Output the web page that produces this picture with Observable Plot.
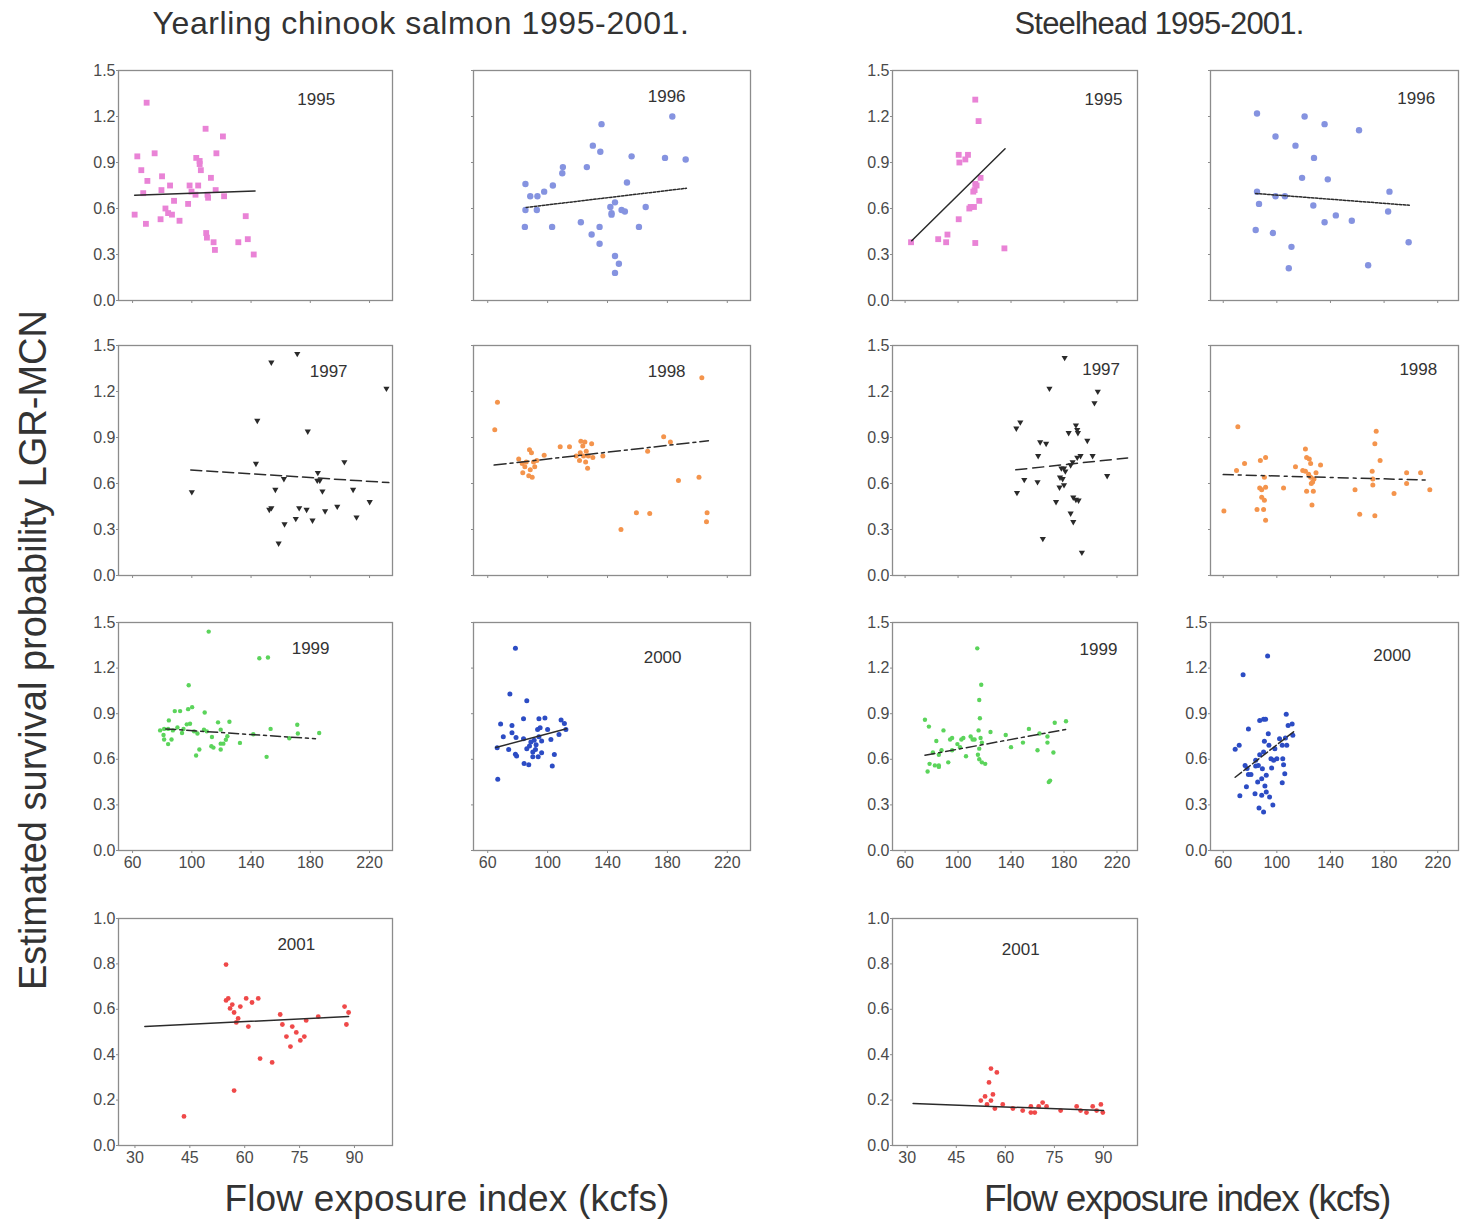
<!DOCTYPE html>
<html><head><meta charset="utf-8">
<script src="https://cdn.jsdelivr.net/npm/d3@7"></script>
<script src="https://cdn.jsdelivr.net/npm/@observablehq/plot@0.6"></script>
<style>
body{margin:0;background:#fff;}
#root{position:relative;width:1462px;height:1222px;overflow:hidden;font-family:"Liberation Sans",Arial,sans-serif;color:#333;}
.p{position:absolute;}
.t{position:absolute;white-space:nowrap;line-height:1;transform:translate(-50%,-50%);color:#333;}
</style></head><body><div id="root"></div>
<script>
// ---------- tick labels ----------
const xTicksHigh = [60, 100, 140, 180, 220];
const xTicksLow = [30, 45, 60, 75, 90];
const yTicksHigh = [0, 0.3, 0.6, 0.9, 1.2, 1.5];
const yTicksLow = [0, 0.2, 0.4, 0.6, 0.8, 1.0];
const years = ["1995","1996","1997","1998","1999","2000","2001"];

// ---------- Yearling chinook: [flow index, survival] ----------
const ch95 = [[69.5,1.29],[63.2,0.94],[65.9,0.85],[70,0.78],[67.2,0.70],[61.4,0.56],[69,0.50],[74.9,0.96],[79.9,0.81],[79.5,0.72],[85.3,0.75],[82.2,0.60],[84,0.57],[86.6,0.56],[78.9,0.53],[88,0.65],[91.7,0.52],[97.5,0.63],[98.5,0.75],[99.8,0.71],[102.5,0.69],[104.3,0.75],[103,0.93],[105.3,0.91],[105.3,0.89],[106.1,0.85],[109.3,1.12],[121,1.07],[116.6,0.96],[112.9,0.80],[116.1,0.72],[110.6,0.69],[111,0.67],[121.8,0.68],[109.7,0.44],[110.2,0.41],[114.7,0.38],[115.6,0.33],[131.4,0.38],[137.8,0.40],[136.4,0.55],[141.8,0.30]];
const ch95fit = [[61.4,0.686],[142.7,0.714]];
const ch96 = [[85.2,0.76],[85.2,0.59],[84.8,0.48],[88.4,0.68],[93.2,0.68],[92.8,0.59],[97.7,0.71],[103.5,0.75],[103,0.48],[110.2,0.87],[109.8,0.83],[126.2,0.87],[130.2,1.01],[136,1.15],[135.2,0.97],[122.2,0.51],[129.4,0.43],[134.7,0.48],[134.7,0.37],[141.9,0.61],[142.7,0.56],[145,0.64],[149.4,0.59],[151.6,0.58],[153,0.77],[156.1,0.94],[161,0.48],[165.5,0.61],[145,0.29],[147.6,0.24],[145,0.18],[178.4,0.93],[183.3,1.2],[192.2,0.92],[142.7,0.57]];
const ch96fit = [[85.7,0.607],[192.7,0.732]];
const ch97 = [[100,0.545],[153.7,1.39],[171.2,1.446],[231.4,1.22],[144.2,1.01],[178.3,0.94],[143.3,0.73],[203,0.74],[162.2,0.63],[156.4,0.56],[152.3,0.43],[153.7,0.44],[162.6,0.335],[158.6,0.21],[170.2,0.37],[172.5,0.44],[177.5,0.43],[181.5,0.36],[185.1,0.67],[184.7,0.62],[188.2,0.55],[190,0.42],[198.2,0.45],[208.9,0.56],[211.2,0.38],[220.1,0.48],[186.4,0.62]];
const ch97fit = [[99.3,0.688],[233,0.606]];
const ch98 = [[64.7,0.95],[66.5,1.13],[80.7,0.76],[87.9,0.82],[89.2,0.80],[83,0.73],[85.7,0.74],[84.8,0.71],[90.6,0.74],[91.4,0.71],[83.4,0.67],[87.4,0.65],[89.7,0.64],[92.8,0.75],[88.4,0.69],[97.7,0.785],[108.4,0.84],[114.6,0.84],[122.2,0.875],[124.9,0.87],[129.4,0.86],[123.5,0.845],[119.1,0.78],[121.8,0.80],[125.8,0.81],[124,0.78],[127.2,0.78],[130.2,0.77],[125.4,0.74],[126.7,0.70],[121.3,0.75],[136.9,0.78],[166.8,0.81],[177.5,0.905],[182,0.87],[203,1.29],[187.4,0.62],[201.1,0.64],[159.3,0.41],[168.2,0.405],[149,0.30],[206.5,0.41],[206.1,0.35]];
const ch98fit = [[64.3,0.72],[207.4,0.879]];
const ch99 = [[111.4,1.44],[145.6,1.265],[151.4,1.27],[97.9,1.087],[100.2,0.943],[97.5,0.93],[88.5,0.917],[92.1,0.917],[108.7,0.908],[84.5,0.856],[81.3,0.80],[84,0.80],[87.2,0.79],[90.3,0.81],[94.4,0.80],[96.6,0.83],[98.8,0.834],[93.4,0.773],[101.5,0.784],[103.8,0.77],[108.2,0.795],[110.1,0.784],[81.3,0.73],[86.3,0.73],[84,0.70],[113.6,0.747],[113.2,0.686],[114.6,0.677],[117.7,0.843],[119.5,0.795],[119.5,0.703],[121.3,0.703],[119.5,0.664],[123,0.729],[125.4,0.847],[124,0.752],[105.1,0.664],[102.9,0.625],[132.5,0.708],[141.5,0.765],[153.2,0.80],[150.5,0.616],[171.2,0.827],[171.6,0.77],[165.8,0.738],[186,0.773],[78.6,0.79],[80.9,0.76]];
const ch99fit = [[82.4,0.80],[183.5,0.735]];
const ch00 = [[78.5,1.33],[74.8,1.03],[86.1,0.986],[68.6,0.833],[76.2,0.822],[83.9,0.866],[94.2,0.866],[98.2,0.871],[109,0.858],[111.2,0.835],[112.2,0.796],[70.4,0.748],[66.3,0.676],[74,0.665],[76.2,0.774],[78.9,0.743],[83.9,0.735],[86.1,0.669],[78.5,0.634],[79.3,0.621],[84.3,0.573],[87.4,0.564],[90.1,0.648],[90.1,0.617],[88.8,0.713],[91,0.726],[92.3,0.696],[94.2,0.748],[93.3,0.796],[95,0.807],[87.9,0.687],[91.9,0.665],[96,0.72],[93.7,0.617],[96,0.643],[100,0.796],[102.2,0.73],[103.1,0.556],[104.5,0.632],[107.6,0.763],[66.7,0.468]];
const ch00fit = [[65.4,0.678],[112.6,0.801]];
const ch01 = [[54.9,0.797],[54.9,0.639],[55.5,0.648],[56.6,0.621],[56,0.604],[57.1,0.586],[58.2,0.56],[58.8,0.612],[57.7,0.542],[60.4,0.648],[62,0.63],[63.7,0.648],[61,0.524],[64.2,0.383],[67.5,0.366],[69.7,0.577],[70.3,0.533],[71.4,0.48],[72.5,0.436],[73,0.524],[74.1,0.498],[75.2,0.463],[76.3,0.48],[76.8,0.551],[80.1,0.568],[87.3,0.612],[87.8,0.533],[88.4,0.586],[57.1,0.242],[43.4,0.128]];
const ch01fit = [[32.7,0.524],[88.4,0.568]];

// ---------- Steelhead: [flow index, survival] ----------
const sh95 = [[64.5,0.38],[85,0.40],[91,0.38],[92,0.43],[100.5,0.53],[100.5,0.95],[101,0.90],[105.5,0.92],[107.5,0.95],[108.5,0.60],[109.5,0.61],[112,0.61],[113,1.31],[115.5,1.17],[113,0.76],[112.5,0.72],[114,0.75],[117,0.80],[116,0.65],[113,0.375],[135,0.34],[111.5,0.71]];
const sh95fit = [[65,0.39],[135.5,0.99]];
const sh96 = [[85.2,1.22],[120.7,1.2],[135.6,1.15],[161.3,1.11],[99,1.07],[113.9,1.01],[127.7,0.93],[118.8,0.80],[138,0.79],[85.2,0.71],[99,0.68],[106,0.68],[86.7,0.63],[127.2,0.62],[144,0.555],[135.6,0.51],[155.9,0.52],[184,0.71],[183,0.58],[84.2,0.46],[97,0.44],[110.9,0.35],[108.9,0.21],[168.1,0.23],[198.3,0.38]];
const sh96fit = [[84.2,0.698],[198.8,0.621]];
const sh97 = [[144.5,0.54],[144,0.96],[147,1.0],[150,0.625],[160,0.61],[160.5,0.78],[162,0.87],[166.5,0.86],[169,1.22],[164,0.24],[174,0.48],[176.6,0.575],[177,0.64],[179,0.63],[180,0.59],[181,0.68],[180,0.70],[180.5,1.42],[183.5,0.93],[185,0.72],[186.5,0.74],[185,0.405],[187,0.35],[187,0.51],[189,0.495],[191,0.49],[189,0.98],[190,0.95],[190.5,0.93],[190,0.77],[192.5,0.78],[193.5,0.15],[197.6,0.88],[201.6,0.78],[203,1.125],[205.5,1.2],[212.6,0.65],[178,0.70]];
const sh97fit = [[143.6,0.689],[228,0.767]];
const sh98 = [[60.5,0.42],[69.9,0.685],[70.9,0.97],[75.9,0.73],[85.2,0.43],[87.2,0.57],[88.7,0.56],[87.7,0.75],[91.6,0.77],[90.7,0.64],[91.6,0.575],[88.7,0.51],[90.7,0.49],[90.1,0.43],[91.6,0.36],[105,0.57],[113.9,0.71],[119.3,0.685],[121.3,0.825],[122.2,0.77],[124.2,0.76],[121.3,0.68],[122.2,0.55],[123.7,0.66],[125.2,0.64],[126.7,0.61],[127.7,0.63],[125.7,0.60],[129.2,0.67],[125.2,0.73],[127.2,0.55],[126.2,0.46],[132.6,0.72],[158.3,0.56],[161.8,0.40],[171.1,0.68],[171.6,0.59],[173.1,0.86],[174.1,0.94],[173.1,0.39],[177,0.75],[187.4,0.535],[196.8,0.67],[196.8,0.60],[207.2,0.67],[214.1,0.56],[171.6,0.63]];
const sh98fit = [[60,0.658],[211.1,0.623]];
const sh99 = [[114.5,1.33],[117.5,1.09],[116,0.99],[116.5,0.87],[75,0.86],[78,0.815],[89,0.79],[115.5,0.79],[124.5,0.78],[83.6,0.72],[94,0.73],[102.5,0.73],[104,0.74],[111,0.73],[112.5,0.73],[117,0.74],[118,0.71],[99.5,0.70],[101.5,0.68],[116,0.67],[87.5,0.66],[95.5,0.66],[81,0.645],[85.5,0.63],[92.6,0.58],[78.5,0.57],[85.5,0.56],[82.5,0.56],[77,0.52],[85.5,0.55],[106,0.62],[115,0.63],[116,0.60],[118,0.58],[120.5,0.57],[136,0.76],[140,0.68],[149,0.71],[153.5,0.80],[160,0.66],[161.5,0.77],[167.5,0.71],[172,0.645],[168.5,0.45],[169.5,0.46],[173,0.84],[181.5,0.85],[167.5,0.75],[95.5,0.74],[109.5,0.75]];
const sh99fit = [[75,0.627],[182,0.797]];
const sh00 = [[93.1,1.28],[74.8,1.156],[78.8,0.80],[68.9,0.666],[71.9,0.692],[76.3,0.56],[77.8,0.54],[78.8,0.50],[80.7,0.50],[77.3,0.42],[72.4,0.36],[84.2,0.556],[86.2,0.56],[87.2,0.856],[90.1,0.863],[91.6,0.863],[85.7,0.45],[88.7,0.363],[86.7,0.28],[90.1,0.254],[92.1,0.385],[91.1,0.424],[92.1,0.495],[89.2,0.538],[90.7,0.718],[93.6,0.768],[94.1,0.692],[90.1,0.648],[95.6,0.604],[96.1,0.543],[97,0.30],[98.5,0.67],[100,0.604],[102,0.735],[104,0.692],[104.4,0.604],[105,0.564],[104,0.446],[105.9,0.505],[107,0.897],[107.4,0.692],[108.4,0.823],[111.4,0.832],[111.9,0.758],[106.4,0.74],[83.7,0.374],[94.6,0.352],[88.7,0.472],[97.6,0.593],[87.2,0.63],[84.2,0.593]];
const sh00fit = [[68.9,0.482],[112.9,0.784]];
const sh01 = [[55.6,0.339],[57.4,0.322],[55,0.278],[53.8,0.216],[54.4,0.181],[55.6,0.198],[56.2,0.225],[52.5,0.198],[56.8,0.163],[59.2,0.181],[62.3,0.163],[65.3,0.154],[67.8,0.172],[69,0.145],[70.2,0.172],[71.4,0.189],[72.6,0.172],[76.9,0.154],[81.8,0.172],[83,0.154],[84.8,0.145],[86.7,0.172],[87.9,0.154],[89.2,0.181],[89.8,0.145],[67.8,0.145]];
const sh01fit = [[31.8,0.185],[90,0.154]];

// ---------- layout & styles ----------
const COLX = [118, 473, 892, 1210], COLW = [274, 277, 245, 248];
const ROWY = [70, 345, 622, 918], ROWH = [230, 230, 228, 227];
const ML = 46, MR = 8, MT = 8, MB = 30;

const yearStyle = {
  "1995": {symbol: "square", fill: "#e983d6", r: 3.3},
  "1996": {symbol: "circle", fill: "#8593e0", r: 3.2},
  "1997": {symbol: "triangle", fill: "#2a2a2a", r: 2.3, rotate: 180},
  "1998": {symbol: "circle", fill: "#f4944c", r: 2.5},
  "1999": {symbol: "circle", fill: "#5bd45b", r: 2.2},
  "2000": {symbol: "circle", fill: "#2c4cc4", r: 2.5},
  "2001": {symbol: "circle", fill: "#ef4949", r: 2.4}
};

const panels = [
  {pts: ch95, fit: ch95fit, year: "1995", col: 0, row: 0, lab: [184, 1.31], showY: true, dash: null},
  {pts: ch96, fit: ch96fit, year: "1996", col: 1, row: 0, lab: [179.5, 1.33], showY: false, dash: "2.5,1.5"},
  {pts: sh95, fit: sh95fit, year: "1995", col: 2, row: 0, lab: [209.8, 1.31], showY: true, dash: null},
  {pts: sh96, fit: sh96fit, year: "1996", col: 3, row: 0, lab: [204, 1.32], showY: false, dash: "2.5,1.5"},
  {pts: ch97, fit: ch97fit, year: "1997", col: 0, row: 1, lab: [192.4, 1.33], showY: true, dash: "11,5"},
  {pts: ch98, fit: ch98fit, year: "1998", col: 1, row: 1, lab: [179.5, 1.33], showY: false, dash: "12,4,3,4"},
  {pts: sh97, fit: sh97fit, year: "1997", col: 2, row: 1, lab: [208, 1.34], showY: true, dash: "11,6"},
  {pts: sh98, fit: sh98fit, year: "1998", col: 3, row: 1, lab: [205.5, 1.34], showY: false, dash: "10,5,3,5"},
  {pts: ch99, fit: ch99fit, year: "1999", col: 0, row: 2, lab: [180.2, 1.33], showY: true, dash: "10,4,3,4"},
  {pts: ch00, fit: ch00fit, year: "2000", col: 1, row: 2, lab: [176.8, 1.27], showY: false, dash: null},
  {pts: sh99, fit: sh99fit, year: "1999", col: 2, row: 2, lab: [206, 1.32], showY: true, dash: "10,4,3,4"},
  {pts: sh00, fit: sh00fit, year: "2000", col: 3, row: 2, lab: [186, 1.28], showY: true, dash: "8,3"},
  {pts: ch01, fit: ch01fit, year: "2001", col: 0, row: 3, lab: [74.1, 0.885], showY: true, dash: null},
  {pts: sh01, fit: sh01fit, year: "2001", col: 2, row: 3, lab: [64.7, 0.863], showY: true, dash: null}
];

const root = document.getElementById("root");

function makePanel(p) {
  const low = p.row === 3;
  const showX = p.row >= 2;
  const s = yearStyle[p.year];
  const data = p.pts.map(([x, y]) => ({x, y}));
  const fit = p.fit.map(([x, y]) => ({x, y}));
  const chart = Plot.plot({
    width: COLW[p.col] + ML + MR,
    height: ROWH[p.row] + MT + MB,
    marginLeft: ML, marginRight: MR, marginTop: MT, marginBottom: MB,
    style: {fontFamily: "'Liberation Sans', Arial, sans-serif", fontSize: "16px", color: "#4a4a4a", background: "transparent", overflow: "visible"},
    x: {domain: low ? [25.5, 100.4] : [50.5, 235.5]},
    y: {domain: low ? [0, 1] : [0, 1.5]},
    marks: [
      Plot.axisX({ticks: low ? xTicksLow : xTicksHigh, tickSize: 3, tickPadding: 3, stroke: "#8c8c8c", fontSize: 16,
        tickFormat: showX ? (d => String(d)) : (() => ""), label: null}),
      Plot.axisY({ticks: low ? yTicksLow : yTicksHigh, tickSize: 2, tickPadding: 1, stroke: "#8c8c8c", fontSize: 16,
        tickFormat: p.showY ? d3.format(".1f") : (() => ""), label: null}),
      Plot.frame({stroke: "#8c8c8c", strokeWidth: 1.3}),
      Plot.dot(data, {x: "x", y: "y", symbol: s.symbol, r: s.r, fill: s.fill, rotate: s.rotate || 0}),
      Plot.line(fit, {x: "x", y: "y", stroke: "#2b2b2b", strokeWidth: 1.5, strokeDasharray: p.dash || undefined}),
      Plot.text([{x: p.lab[0], y: p.lab[1], t: p.year}], {x: "x", y: "y", text: "t", fontSize: 17, fill: "#333"})
    ]
  });
  chart.classList.add("p");
  chart.style.left = (COLX[p.col] - ML) + "px";
  chart.style.top = (ROWY[p.row] - MT) + "px";
  root.appendChild(chart);
}
panels.forEach(makePanel);

function addText(txt, x, y, size, extra) {
  const d = document.createElement("div");
  d.className = "t";
  d.textContent = txt;
  d.style.left = x + "px";
  d.style.top = y + "px";
  d.style.fontSize = size + "px";
  if (extra) Object.assign(d.style, extra);
  root.appendChild(d);
}
addText("Yearling chinook salmon 1995-2001.", 421, 23, 32, {letterSpacing: "0.6px"});
addText("Steelhead 1995-2001.", 1159, 23, 31, {letterSpacing: "-0.8px"});
addText("Flow exposure index (kcfs)", 447, 1198, 37, {letterSpacing: "0.2px"});
addText("Flow exposure index (kcfs)", 1187, 1198, 37, {letterSpacing: "-1.3px"});
addText("Estimated survival probability LGR-MCN", 33, 650, 38, {transform: "translate(-50%,-50%) rotate(-90deg)"});
</script></body></html>
